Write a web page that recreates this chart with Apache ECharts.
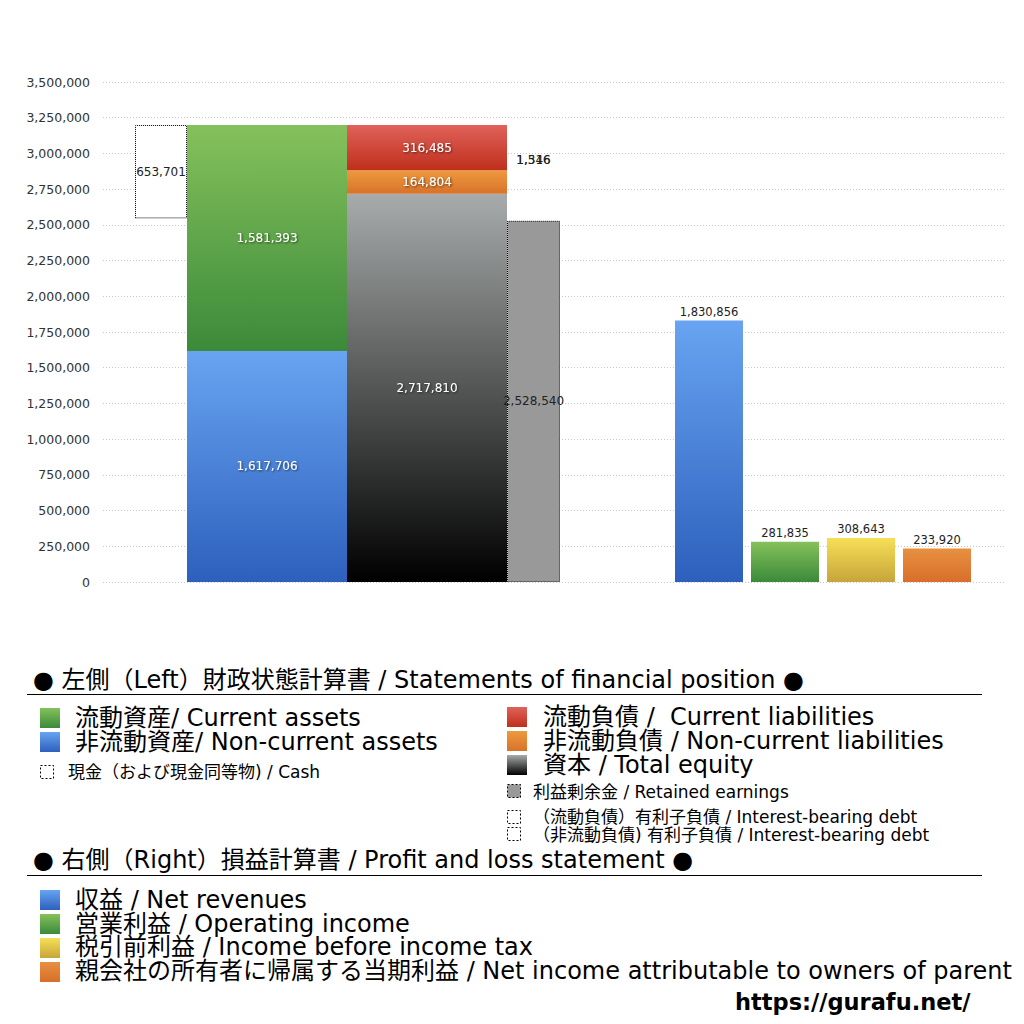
<!DOCTYPE html>
<html><head><meta charset="utf-8">
<script src="https://cdn.jsdelivr.net/npm/echarts@6/dist/echarts.min.js"></script>
<style>html,body{margin:0;padding:0;background:#fff}#c{width:1024px;height:1024px}</style>
</head><body><div id="c"></div>
<script>
// ---- data ----
const yMin = 0, yMax = 3500000, yInterval = 250000;
const nonCurrentAssets = 1617706;
const currentAssets = 1581393;
const cash = 653701;
const equity = 2717810;
const nonCurrentLiabilities = 164804;
const currentLiabilities = 316485;
const retainedEarnings = 2528540;
const ibdCurrent = 1546;
const ibdNonCurrent = 1316;
const plCategories = ['収益', '営業利益', '税引前利益', '当期利益'];
const plValues = [1830856, 281835, 308643, 233920];

// ---- styling ----
const FONT = '"DejaVu Sans", "Noto Sans CJK JP", sans-serif';
const G = (a, b) => new echarts.graphic.LinearGradient(0, 0, 0, 1, [{offset: 0, color: a}, {offset: 1, color: b}]);
const cGreen = () => G('#85c15b', '#3b8a3a');
const cBlue = () => G('#68a4f1', '#2d60bd');
const cRed = () => G('#e0625a', '#bf2f1c');
const cOrange = () => G('#ee9a3e', '#d8722a');
const cEquity = () => G('#a8abab', '#000000');
const cYellow = () => G('#f6df57', '#c7a53a');
const cNet = () => G('#e79040', '#d86e2a');
const fmt = v => Number(v).toLocaleString('en-US');

const whiteLabel = {
  show: true, position: 'inside', color: '#fff', fontSize: 12, fontFamily: FONT,
  textShadowColor: 'rgba(0,0,0,0.6)', textShadowBlur: 2, textShadowOffsetX: 1, textShadowOffsetY: 1,
  formatter: p => fmt(p.value)
};
const blackInside = {show: true, position: 'inside', color: '#222', fontSize: 12, fontFamily: FONT, formatter: p => fmt(p.value)};
const topLabel = {show: true, position: 'top', distance: 4, color: '#222', fontSize: 12, fontFamily: FONT, formatter: p => fmt(p.value)};
const dotted = {borderColor: '#000', borderType: 'dotted', borderWidth: 1};
const clear = 'rgba(0,0,0,0)';

const GRID_TOP = 82, GRID_H = 500;
const yBase = {type: 'value', min: yMin, max: yMax, interval: yInterval};

const BS = {xAxisIndex: 1, yAxisIndex: 1, type: 'bar', barGap: '0%', animation: false};
const series = [
  Object.assign({}, BS, {name: 'cashBase', stack: 'cash', barWidth: 52, silent: true,
    itemStyle: {color: clear}, data: [nonCurrentAssets + currentAssets - cash]}),
  Object.assign({}, BS, {name: '現金', stack: 'cash', barWidth: 52,
    itemStyle: Object.assign({color: '#fff'}, dotted), label: blackInside, data: [cash]}),
  Object.assign({}, BS, {name: '非流動資産', stack: 'assets', barWidth: 160,
    itemStyle: {color: cBlue()}, label: whiteLabel, data: [nonCurrentAssets]}),
  Object.assign({}, BS, {name: '流動資産', stack: 'assets', barWidth: 160,
    itemStyle: {color: cGreen()}, label: whiteLabel, data: [currentAssets]}),
  Object.assign({}, BS, {name: '資本', stack: 'liab', barWidth: 160,
    itemStyle: {color: cEquity()}, label: whiteLabel, data: [equity]}),
  Object.assign({}, BS, {name: '非流動負債', stack: 'liab', barWidth: 160,
    itemStyle: {color: cOrange()}, label: whiteLabel, data: [nonCurrentLiabilities]}),
  Object.assign({}, BS, {name: '流動負債', stack: 'liab', barWidth: 160,
    itemStyle: {color: cRed()}, label: whiteLabel, data: [currentLiabilities]}),
  Object.assign({}, BS, {name: '利益剰余金', stack: 're', barWidth: 53,
    itemStyle: Object.assign({color: '#999999'}, dotted), label: blackInside, data: [retainedEarnings]}),
  Object.assign({}, BS, {name: 'spacer', stack: 're', barWidth: 53, silent: true,
    itemStyle: {color: clear}, data: [equity + nonCurrentLiabilities - retainedEarnings]}),
  Object.assign({}, BS, {name: '（流動負債）有利子負債', stack: 're', barWidth: 53,
    itemStyle: {color: clear}, label: topLabel, data: [ibdCurrent]}),
  Object.assign({}, BS, {name: '（非流動負債）有利子負債', stack: 're', barWidth: 53,
    itemStyle: {color: clear}, label: topLabel, data: [ibdNonCurrent]}),
  {
    type: 'bar', xAxisIndex: 2, yAxisIndex: 2, barWidth: 68, animation: false,
    label: Object.assign({}, topLabel, {fontSize: 11.5, distance: 3}),
    data: plValues.map((v, i) => ({value: v, itemStyle: {color: [cBlue, cGreen, cYellow, cNet][i]()}}))
  }
];

// ---- legend (graphic) ----
const gfx = [];
function txt(x, y, s, size, extra) {
  gfx.push({type: 'text', x: x, y: y, silent: true,
    style: Object.assign({text: s, fontSize: size, fontFamily: FONT, fill: '#000', verticalAlign: 'middle', align: 'left'}, extra || {})});
}
function sq(x, y, w, fill, isDotted) {
  gfx.push({type: 'rect', shape: {x: x, y: y, width: w, height: w}, silent: true,
    style: isDotted ? {fill: fill, stroke: '#000', lineWidth: 1, lineDash: [2, 2]} : {fill: fill}});
}
function hline(y) {
  gfx.push({type: 'line', shape: {x1: 27, y1: y, x2: 982, y2: y}, silent: true, style: {stroke: '#000', lineWidth: 1}});
}
const BIG = 24, SMALL = 17;
txt(33, 680, '● 左側（Left）財政状態計算書 / Statements of financial position ●', BIG);
hline(694.5);
sq(40, 708, 20, cGreen()); txt(75, 718, '流動資産/ Current assets', BIG);
sq(40, 732, 20, cBlue()); txt(75, 742, '非流動資産/ Non-current assets', BIG);
sq(40.5, 765.5, 13, 'none', true); txt(68, 772, '現金（および現金同等物) / Cash', SMALL);
sq(507, 707, 20, cRed()); txt(543, 717, '流動負債 /  Current liabilities', BIG);
sq(507, 731, 20, cOrange()); txt(543, 741, '非流動負債 / Non-current liabilities', BIG);
sq(507, 755, 20, cEquity()); txt(543, 765, '資本 / Total equity', BIG);
sq(507.5, 784.5, 13, '#999', true); txt(533, 792, '利益剰余金 / Retained earnings', SMALL);
sq(507.5, 810.5, 13, 'none', true); txt(533, 817, '（流動負債）有利子負債 / Interest-bearing debt', SMALL);
sq(507.5, 827.5, 13, 'none', true); txt(533, 835, '（非流動負債) 有利子負債 / Interest-bearing debt', SMALL);
txt(33, 860, '● 右側（Right）損益計算書 / Profit and loss statement ●', BIG);
hline(875.5);
sq(40, 890, 20, cBlue()); txt(75, 900, '収益 / Net revenues', BIG);
sq(40, 914, 20, cGreen()); txt(75, 924, '営業利益 / Operating income', BIG);
sq(40, 938, 20, cYellow()); txt(75, 947, '税引前利益 / Income before income tax', BIG);
sq(40, 962, 20, cNet()); txt(75, 971, '親会社の所有者に帰属する当期利益 / Net income attributable to owners of parent', BIG);
txt(735, 1002, 'https://gurafu.net/', 22.5, {fontWeight: 'bold'});

const chart = echarts.init(document.getElementById('c'), null, {renderer: 'svg', width: 1024, height: 1024});
chart.setOption({
  backgroundColor: '#fff',
  animation: false,
  textStyle: {fontFamily: FONT},
  grid: [
    {left: 103, right: 19, top: GRID_TOP, height: GRID_H},
    {left: 100, width: 495, top: GRID_TOP, height: GRID_H},
    {left: 671, width: 304, top: GRID_TOP, height: GRID_H}
  ],
  xAxis: [
    {type: 'category', gridIndex: 0, data: [''], show: false},
    {type: 'category', gridIndex: 1, data: ['財政状態計算書'], show: false},
    {type: 'category', gridIndex: 2, data: plCategories, show: false}
  ],
  yAxis: [
    Object.assign({}, yBase, {gridIndex: 0,
      axisLine: {show: false}, axisTick: {show: false},
      axisLabel: {color: '#333', fontSize: 12.5, margin: 13, fontFamily: FONT, formatter: v => fmt(v)},
      splitLine: {show: true, lineStyle: {color: '#c8c8c8', type: [1, 2], width: 1}}}),
    Object.assign({}, yBase, {gridIndex: 1, show: false, splitLine: {show: false}}),
    Object.assign({}, yBase, {gridIndex: 2, show: false, splitLine: {show: false}})
  ],
  series: series,
  graphic: gfx
});
</script>
</body></html>
